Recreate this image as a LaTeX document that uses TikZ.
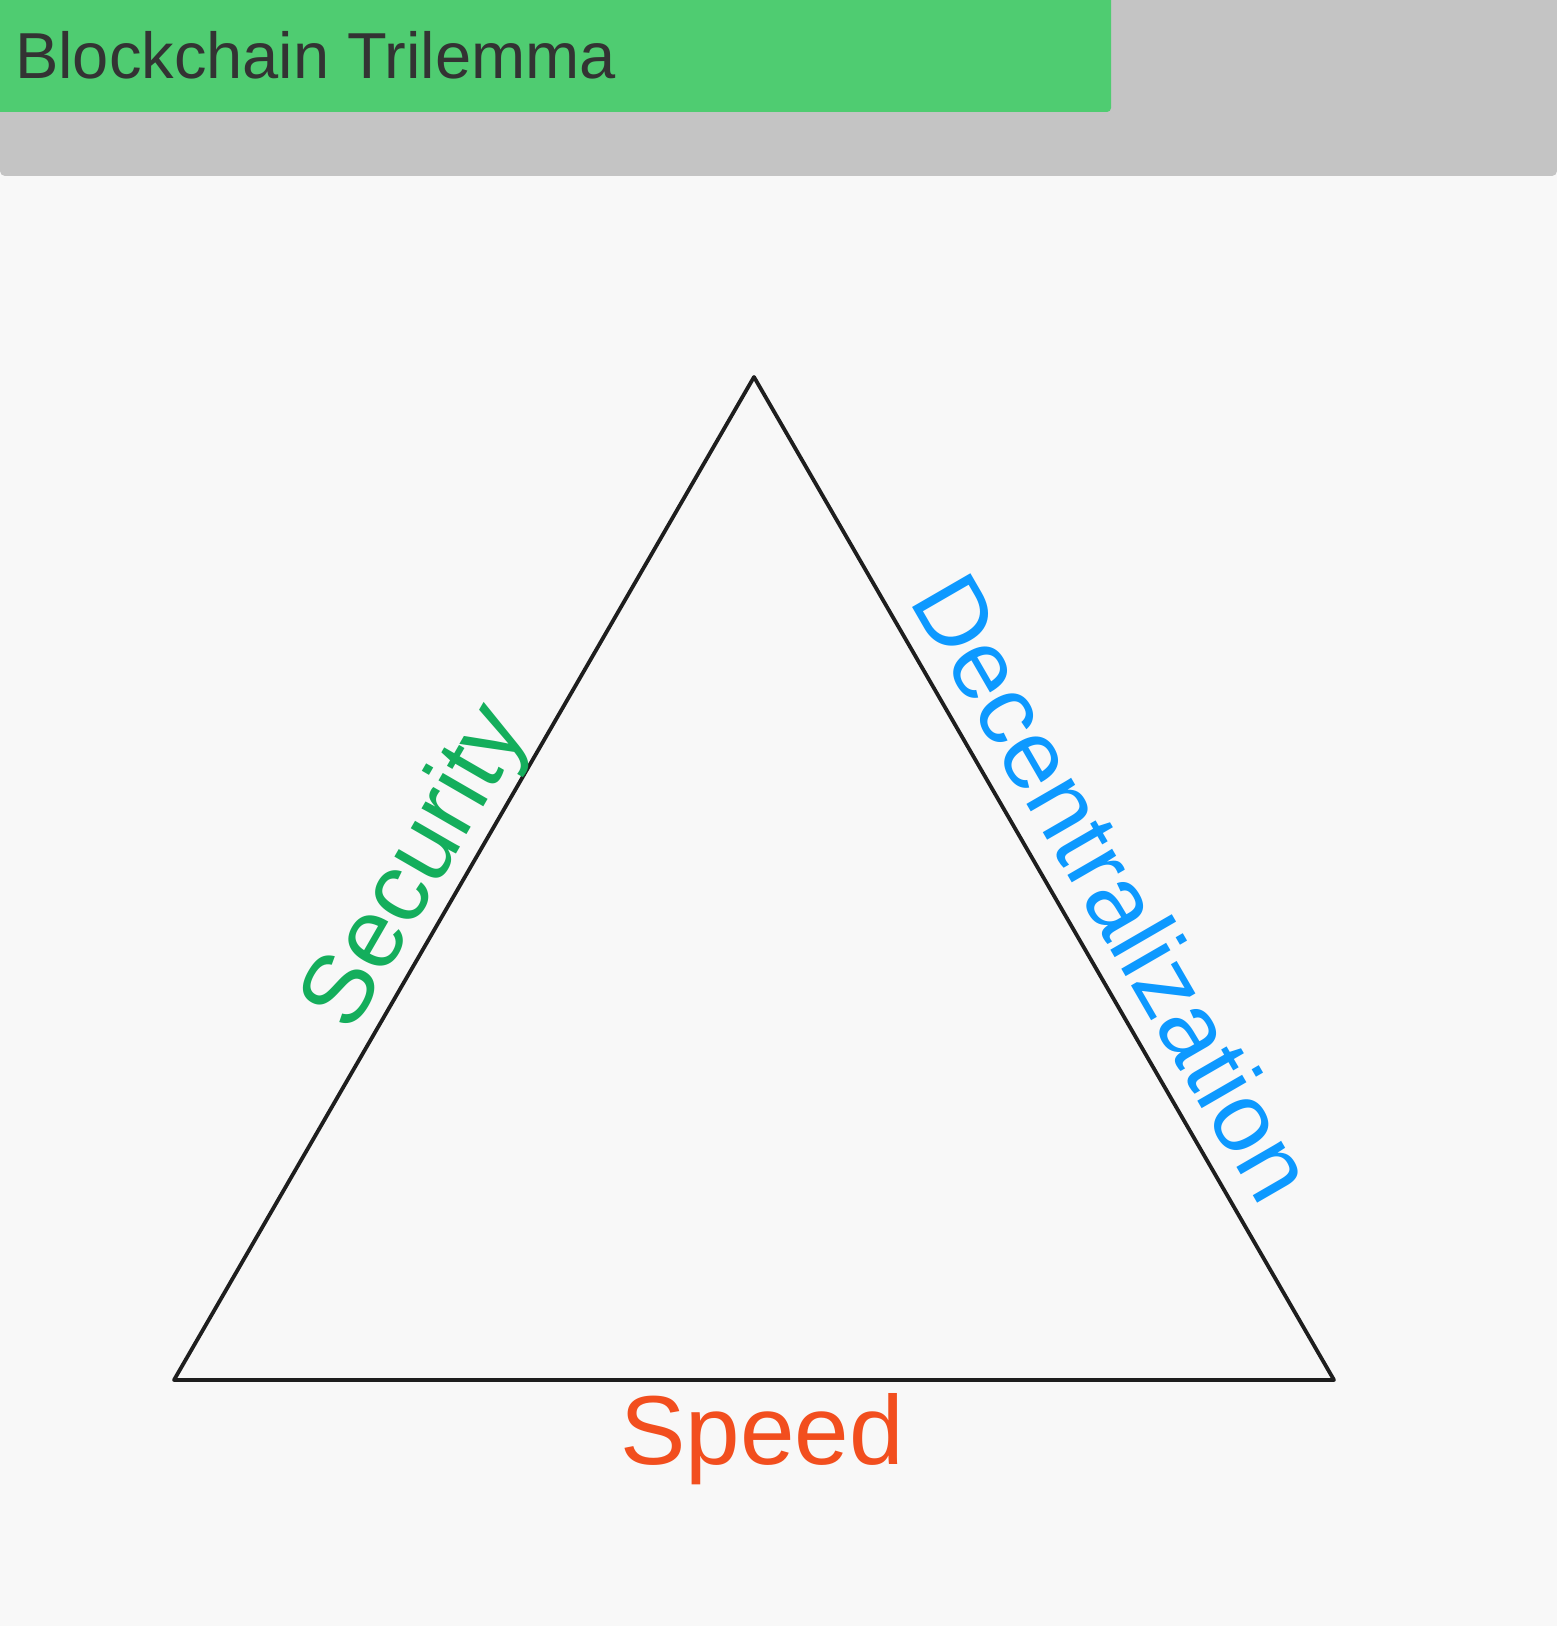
\documentclass[tikz,border=0pt]{standalone}
\usepackage{fontspec}
\setmainfont{Liberation Sans}
\usepackage{xcolor}
\usetikzlibrary{positioning, calc}

\definecolor{paper}{HTML}{F8F8F8}
\definecolor{headgray}{HTML}{C4C4C4}
\definecolor{bargreen}{HTML}{4FCC71}
\definecolor{inkdark}{HTML}{333333}
\definecolor{edgeblack}{HTML}{1E1E1E}
\definecolor{secgreen}{HTML}{14AE5C}
\definecolor{decblue}{HTML}{0D99FF}
\definecolor{speedred}{HTML}{F24E1E}

\begin{document}
\begin{tikzpicture}[
    x=1pt, y=1pt,
    every node/.style={inner sep=0pt, font=\fontsize{98}{110}\selectfont},
    side/.style={draw=edgeblack, line width=3.8pt, line join=round, line cap=round},
    lbl/.style={anchor=base, text=#1},
    lbl/.default=black,
]
    \useasboundingbox (0,0) rectangle (1557,1626);
    \fill[paper] (0,0) rectangle (1557,1626);

    % header band
    \fill[headgray, rounded corners=5pt] (0,1450) rectangle (1557,1640);
    \fill[bargreen, rounded corners=4pt] (-10,1514) rectangle (1111,1640);
    \node[lbl=inkdark, anchor=base west, font=\fontsize{65}{78}\selectfont] (title) at (15,1547) {Blockchain Trilemma};

    % triangle
    \coordinate (apex) at (754,1249);
    \coordinate (bl)   at (174,246);
    \coordinate (br)   at (1334,246);
    \draw[side] (bl) -- (apex) -- (br) -- cycle;

    \path (bl) -- (apex) node[pos=0.488, sloped, lbl=secgreen, yshift=19pt] (security) {Security};
    \path (apex) -- (br) node[pos=0.537, sloped, lbl=decblue, yshift=22pt] (decent) {Decentralization};
    \node[lbl=speedred] (speed) at (762,161) {Speed};
\end{tikzpicture}
\end{document}
